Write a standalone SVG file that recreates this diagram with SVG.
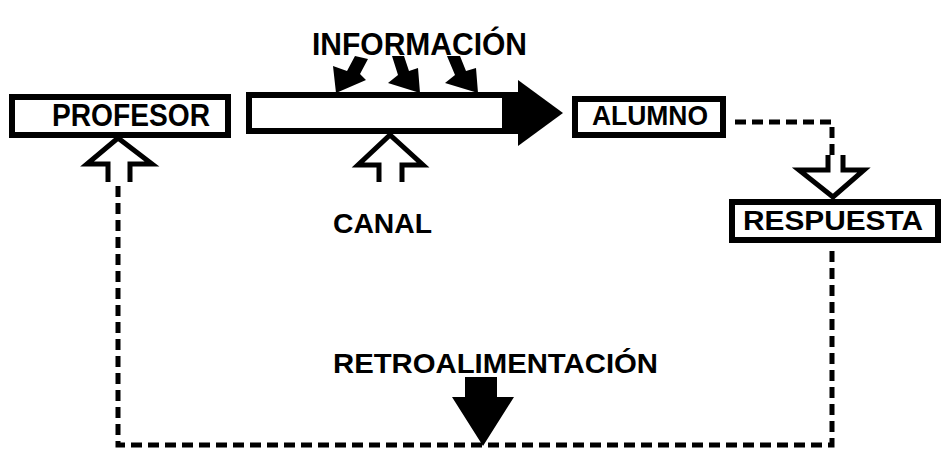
<svg xmlns="http://www.w3.org/2000/svg" width="943" height="452" viewBox="0 0 943 452">
<style>
.box{fill:#fff;stroke:#000;stroke-width:6}
.lbl{font-family:"Liberation Sans",Arial,sans-serif;font-weight:bold;fill:#000}
.hollow{fill:none;stroke:#000;stroke-width:5;stroke-linejoin:miter}
.dash{fill:none;stroke:#000;stroke-width:5;stroke-dasharray:11 6}
.solid{fill:#000;stroke:none}
</style>
<rect width="943" height="452" fill="#fff"/>
<g id="connectors">
  <path class="dash" d="M735,122 H832 V155"/>
  <path class="dash" d="M118,186 V445 H832 V246"/>
  <polyline class="hollow" points="108,182 108,164 87,164 118,138 152,164 130,164 130,182"/>
  <polyline class="hollow" points="379,182 379,165 358,165 390,135 423,165 402,165 402,182"/>
  <polyline class="hollow" points="828,155 828,170 799,170 833,197 864,170 843,170 843,155"/>
  <polygon class="solid" points="465,377 497,377 497,397 514,397 483,446 452,397 465,397"/>
  <polygon class="solid" points="355,56 368,59 360,74 366,80 336,93 333,66 347,71"/>
  <polygon class="solid" points="392,56 404,56 409,71 418,68 420,93 388,83 398,75"/>
  <polygon class="solid" points="447,56 460,56 466,71 476,68 478,93 445,83 455,75"/>
</g>
<g id="profesor">
  <rect class="box" x="12" y="97" width="216" height="38"/>
  <text class="lbl" x="52" y="126" font-size="31" textLength="158" lengthAdjust="spacingAndGlyphs">PROFESOR</text>
</g>
<g id="canal">
  <rect class="box" x="249" y="95" width="270" height="36"/>
  <rect class="solid" x="502" y="95" width="18" height="36"/>
  <polygon class="solid" points="518,80 563,113 518,146"/>
  <text class="lbl" x="333" y="233" font-size="28" textLength="99" lengthAdjust="spacingAndGlyphs">CANAL</text>
</g>
<g id="informacion">
  <text class="lbl" x="312" y="55" font-size="31" textLength="215" lengthAdjust="spacingAndGlyphs">INFORMACIÓN</text>
</g>
<g id="alumno">
  <rect class="box" x="575" y="99" width="148" height="36"/>
  <text class="lbl" x="592" y="125" font-size="28" textLength="116" lengthAdjust="spacingAndGlyphs">ALUMNO</text>
</g>
<g id="respuesta">
  <rect class="box" x="732" y="202" width="206" height="38"/>
  <text class="lbl" x="743" y="230" font-size="27" textLength="180" lengthAdjust="spacingAndGlyphs">RESPUESTA</text>
</g>
<g id="retroalimentacion">
  <text class="lbl" x="333" y="373" font-size="28" textLength="325" lengthAdjust="spacingAndGlyphs">RETROALIMENTACIÓN</text>
</g>
</svg>
